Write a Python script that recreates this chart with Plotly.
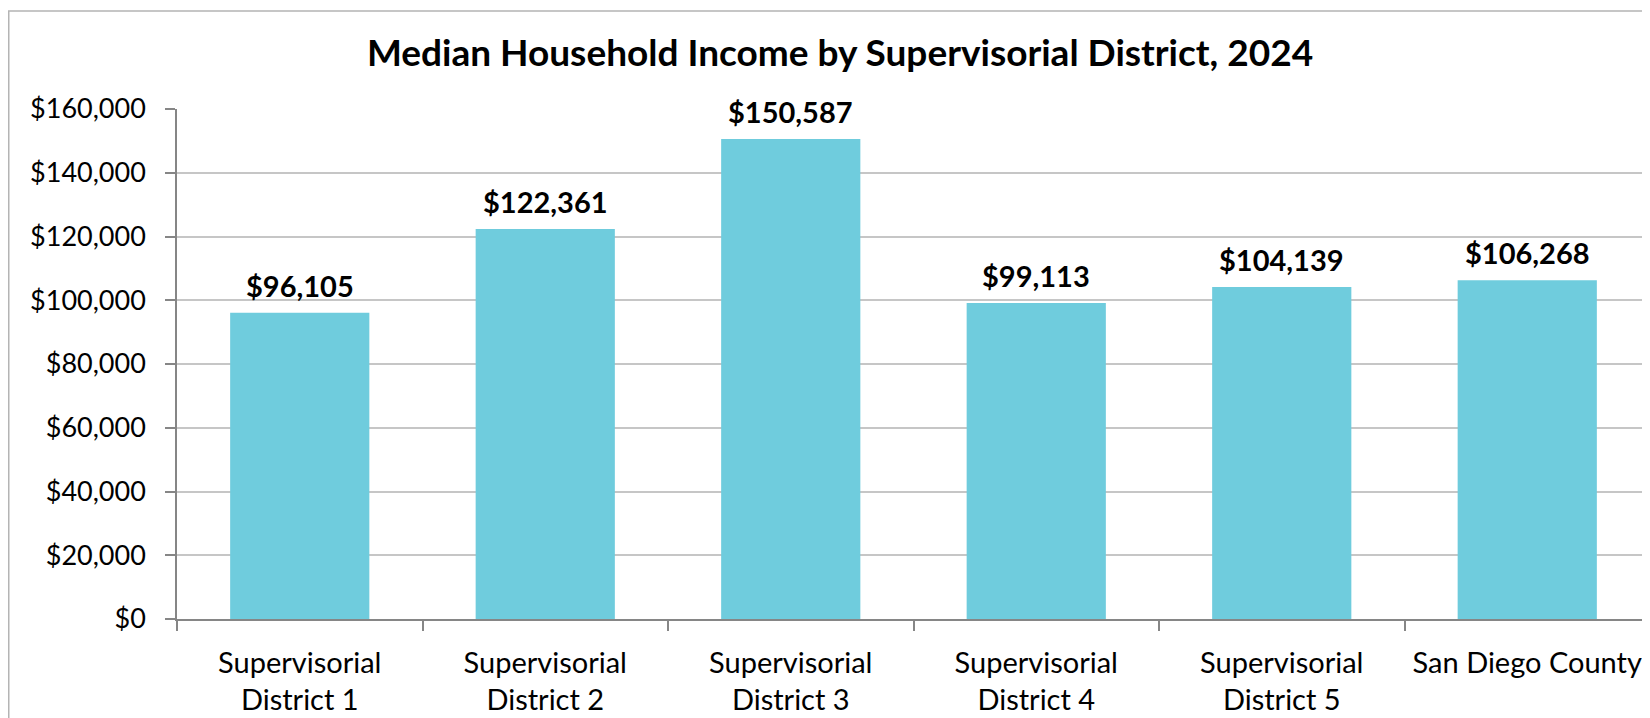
import plotly.graph_objects as go

categories = ["Supervisorial<br>District 1", "Supervisorial<br>District 2", "Supervisorial<br>District 3",
              "Supervisorial<br>District 4", "Supervisorial<br>District 5", "San Diego County"]
values = [96105, 122361, 150587, 99113, 104139, 106268]
tick_vals = [0, 20000, 40000, 60000, 80000, 100000, 120000, 140000, 160000]
tick_text = ["$0", "$20,000", "$40,000", "$60,000", "$80,000", "$100,000", "$120,000", "$140,000", "$160,000"]
title_text = "Median Household Income by Supervisorial District, 2024"

# page has an 8px body margin; figure sized to fit the window
OFF = 8
W, H = 1650 - OFF, 718 - OFF
ML, MT, MB, MR = 177 - OFF, 109 - OFF, H - (619 - OFF), 0
FONT = "Lato, 'Open Sans', sans-serif"

fig = go.Figure()
fig.add_trace(go.Bar(x=categories, y=values, marker=dict(color="#6FCCDD", line=dict(width=0)),
                     hoverinfo="x+y"))

for c, v in zip(categories, values):
    fig.add_annotation(x=c, y=v, text="<b>${:,}</b>".format(v), showarrow=False,
                       yanchor="bottom", yshift=8,
                       font=dict(family=FONT, size=29, color="#000000"))

pw = W - ML - MR
ph = H - MT - MB
def px2x(p):
    return (p - ML) / pw
def py2y(p):
    return (H - MB - p) / ph
fig.add_shape(type="rect", xref="paper", yref="paper",
              x0=px2x(0.75), x1=px2x(1680), y0=py2y(740), y1=py2y(11 - OFF),
              line=dict(color="#B4B4B4", width=1.5), fillcolor="rgba(0,0,0,0)", layer="below")

fig.update_layout(
    width=W, height=H,
    margin=dict(l=ML, r=MR, t=MT, b=MB, autoexpand=False),
    paper_bgcolor="white", plot_bgcolor="white",
    bargap=0.433,
    showlegend=False,
    font=dict(family=FONT, size=27, color="#000000"),
    title=dict(text="<b>" + title_text + "</b>", x=(840 - OFF) / W, xanchor="center",
               xref="container", yref="container", y=1 - (53 - OFF) / H, yanchor="middle",
               font=dict(family=FONT, size=37, color="#000000")),
    xaxis=dict(showline=True, linecolor="#868686", linewidth=1.5, ticks="outside",
               tickson="boundaries", ticklen=10, tickcolor="#868686", tickwidth=1.5,
               showgrid=False, ticklabelstandoff=17,
               tickfont=dict(family=FONT, size=29, color="#000000")),
    yaxis=dict(range=[0, 160000], tickvals=tick_vals, ticktext=tick_text,
               showline=True, linecolor="#868686", linewidth=1.5, ticks="outside",
               ticklen=10, tickcolor="#868686", tickwidth=1.5,
               showgrid=True, gridcolor="#C6C6C6", gridwidth=1.5, zeroline=False,
               ticklabelstandoff=14,
               tickfont=dict(family=FONT, size=27, color="#000000")),
)

fig.write_html("out.html")
